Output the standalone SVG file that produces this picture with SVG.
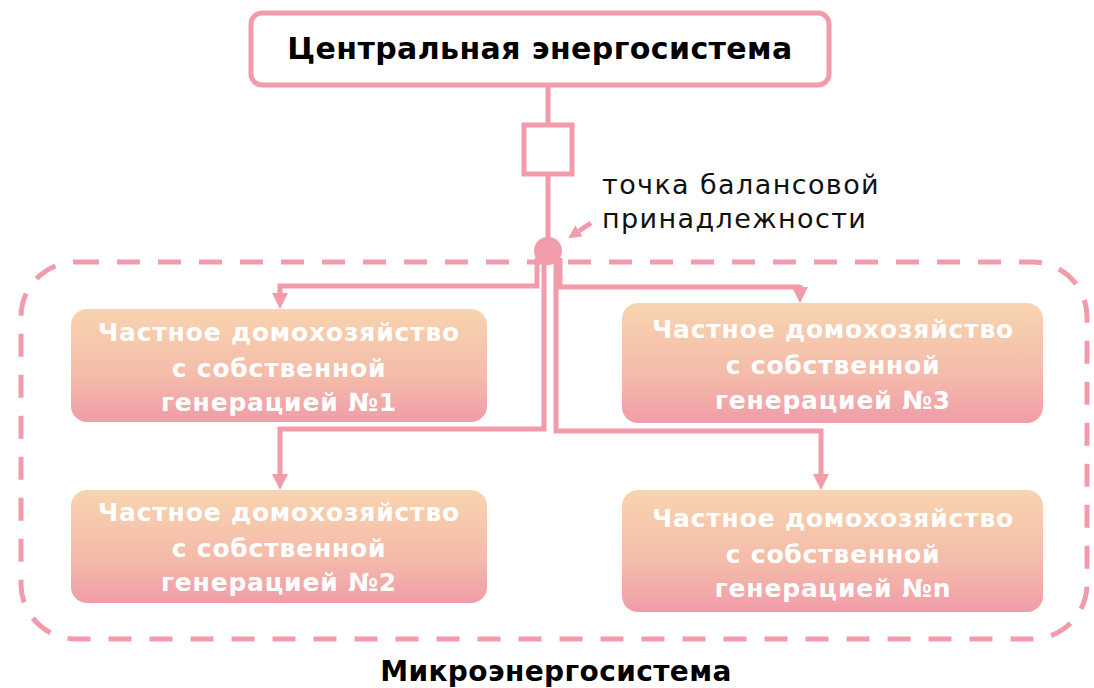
<svg xmlns="http://www.w3.org/2000/svg" width="1094" height="688" viewBox="0 0 1094 688">
  <defs>
    <linearGradient id="boxgrad" x1="0" y1="0" x2="0" y2="1">
      <stop offset="0" stop-color="#F8D4AF"/>
      <stop offset="0.6" stop-color="#F4BBAA"/>
      <stop offset="1" stop-color="#F09CA9"/>
    </linearGradient>
    <marker id="arr" viewBox="0 0 16 16" refX="0" refY="8" markerWidth="16" markerHeight="16" markerUnits="userSpaceOnUse" orient="auto">
      <path d="M0,0 L16,8 L0,16 z" fill="#F19BAB"/>
    </marker>
    <marker id="arrs" viewBox="0 0 12 12" refX="0" refY="6" markerWidth="13" markerHeight="13" markerUnits="userSpaceOnUse" orient="auto">
      <path d="M0,0 L12,6 L0,12 z" fill="#F19BAB"/>
    </marker>
  </defs>
  <style>
    .pk { stroke: #F19BAB; stroke-width: 5; fill: none; }
    .hh { fill: url(#boxgrad); }
    .hht { font-family: "DejaVu Sans", "Liberation Sans", sans-serif; font-weight: 700; font-size: 25px; letter-spacing: 0.8px; fill: #FFFFFF; text-anchor: middle; }
    .title { font-family: "DejaVu Sans", "Liberation Sans", sans-serif; font-weight: 700; font-size: 30px; letter-spacing: 0.4px; fill: #000; text-anchor: middle; }
    .lbl { font-family: "DejaVu Sans", "Liberation Sans", sans-serif; font-size: 27px; letter-spacing: 1.4px; fill: #111; }
    .conn { stroke: #F19BAB; stroke-width: 5; fill: none; stroke-linejoin: miter; }
  </style>
  <rect width="1094" height="688" fill="#FFFFFF"/>

  <g id="microgrid">
    <rect x="21" y="262" width="1066" height="377" rx="55" ry="55" class="pk" stroke-dasharray="23 18"/>
    <text class="title" x="556" y="681" style="font-size:28px">Микроэнергосистема</text>
  </g>

  <g id="central">
    <rect x="251" y="13" width="578" height="72" rx="11" ry="11" fill="#FFFFFF" class="pk"/>
    <text class="title" x="540" y="59">Центральная энергосистема</text>
  </g>

  <g id="meter">
    <rect x="524" y="125" width="48" height="49" fill="#FFFFFF" class="pk"/>
  </g>

  <g id="junction">
    <circle cx="548" cy="251" r="14" fill="#F19BAB"/>
  </g>

  <g id="label">
    <text class="lbl" x="602" y="194">точка балансовой</text>
    <text class="lbl" x="602" y="228">принадлежности</text>
  </g>

  <g id="connectors">
    <path class="conn" d="M548 85 V125"/>
    <path class="conn" d="M548 174 V240"/>
    <path class="conn" d="M591 223 L579 231" marker-end="url(#arrs)"/>
    <path class="conn" d="M537 258 V286 H280 V293" marker-end="url(#arr)"/>
    <path class="conn" d="M544 258 V429 H280 V474" marker-end="url(#arr)"/>
    <path class="conn" d="M556 258 V431 H821 V474" marker-end="url(#arr)"/>
    <path class="conn" d="M560 258 V287 H800 V287" />
    <path class="conn" d="M800 285 V287" marker-end="url(#arr)"/>
  </g>

  <g id="hh1">
    <rect class="hh" x="71" y="309" width="416" height="113" rx="16" ry="16"/>
    <text class="hht" x="279" y="341">Частное домохозяйство</text>
    <text class="hht" x="279" y="377">с собственной</text>
    <text class="hht" x="279" y="411">генерацией №1</text>
  </g>
  <g id="hh3">
    <rect class="hh" x="622" y="303" width="421" height="120" rx="16" ry="16"/>
    <text class="hht" x="833" y="338">Частное домохозяйство</text>
    <text class="hht" x="833" y="374">с собственной</text>
    <text class="hht" x="833" y="409">генерацией №3</text>
  </g>
  <g id="hh2">
    <rect class="hh" x="71" y="490" width="416" height="113" rx="16" ry="16"/>
    <text class="hht" x="279" y="521">Частное домохозяйство</text>
    <text class="hht" x="279" y="557">с собственной</text>
    <text class="hht" x="279" y="591">генерацией №2</text>
  </g>
  <g id="hhn">
    <rect class="hh" x="622" y="490" width="421" height="122" rx="16" ry="16"/>
    <text class="hht" x="833" y="527">Частное домохозяйство</text>
    <text class="hht" x="833" y="563">с собственной</text>
    <text class="hht" x="833" y="597">генерацией №n</text>
  </g>
</svg>
